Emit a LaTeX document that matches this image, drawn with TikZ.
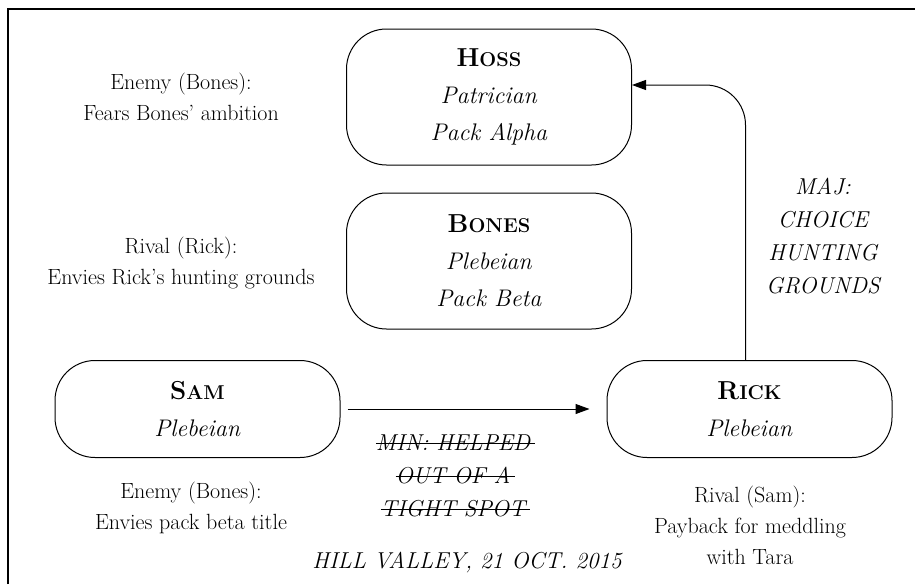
\documentclass[tikz,border=0pt]{standalone}
\usetikzlibrary{arrows.meta}
% bold name with a full-size initial and reduced capitals after it
\newcommand\capname[2]{{\fontsize{26}{36}\selectfont\bfseries #1{\fontsize{20}{36}\selectfont #2}}}
% struck-through text
\newsavebox\strikebox
\newcommand\struck[1]{\sbox\strikebox{#1}\rlap{\rule[0.3em]{\dimexpr\wd\strikebox+0.2em\relax}{1pt}}\usebox\strikebox}
\tikzset{
  person/.style={draw, line width=1pt, rounded corners=40pt, minimum width=285pt,
    inner sep=0pt, align=center, font=\fontsize{24}{37}\selectfont},
  tallbox/.style={minimum height=136pt},
  shortbox/.style={minimum height=97pt},
  note/.style={align=center, inner sep=0pt, font=\fontsize{22}{31}\selectfont},
  tie/.style={align=center, inner sep=0pt, font=\fontsize{23}{33}\selectfont\itshape},
  conn/.style={draw, line width=1pt, -{Triangle[length=14pt,width=10pt]}},
}
\begin{document}
\begin{tikzpicture}[x=1pt, y=-1pt]
\useasboundingbox (0,0) rectangle (915,584);
% frame
\draw[line width=2pt] (8,584) -- (8,9) -- (915,9);

% pack members
\node[person, tallbox] (hoss) at (489,97) {\capname{H}{OSS}\\ \textit{Patrician}\\ \textit{Pack Alpha}};
\node[person, tallbox] (bones) at (489,261) {\capname{B}{ONES}\\ \textit{Plebeian}\\ \textit{Pack Beta}};
\node[person, shortbox] (sam) at (197.5,409) {\capname{S}{AM}\\ \textit{Plebeian}};
\node[person, shortbox] (rick) at (749.5,409) {\capname{R}{ICK}\\ \textit{Plebeian}};

% motives
\node[note] (hossnote) at (181,97) {Enemy (Bones):\\Fears Bones’ ambition};
\node[note] (bonesnote) at (181,263) {Rival (Rick):\\Envies Rick’s hunting grounds};
\node[note] (samnote) at (191,508) {Enemy (Bones):\\Envies pack beta title};
\node[note] (ricknote) at (750,525) {Rival (Sam):\\Payback for meddling\\with Tara};

% debts
\draw[conn, shorten <=7pt, shorten >=17pt] (sam.east) -- (rick.west);
\draw[conn, rounded corners=40pt] ([xshift=-4pt]rick.north) |- ([yshift=12pt]hoss.east);
\node[tie] (maj) at (823,236) {MAJ:\\CHOICE\\HUNTING\\GROUNDS};
\node[tie] (min) at (453,476) {\struck{MIN: HELPED}\\\struck{OUT OF A}\\\struck{TIGHT SPOT}};

% place and date
\node[tie] (place) at (467,562) {HILL VALLEY, 21 OCT. 2015};
\end{tikzpicture}
\end{document}
